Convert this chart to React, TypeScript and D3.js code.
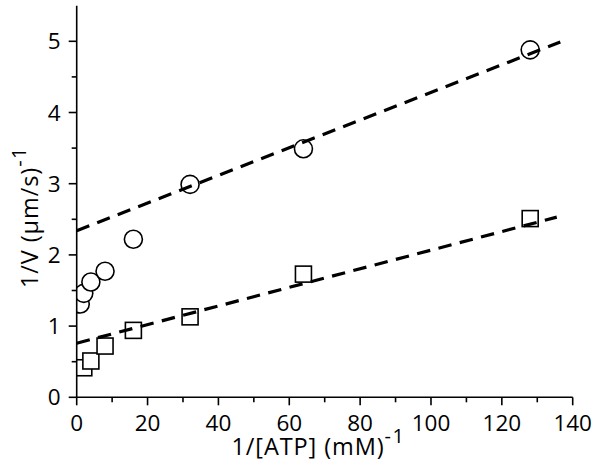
import React from "react";
import * as d3 from "d3";

const atpInv = [1, 2, 4, 8, 16, 32, 64, 128];
const circleVals = [1.31, 1.46, 1.62, 1.77, 2.22, 2.99, 3.49, 4.88];
const squareX = [2, 4, 8, 16, 32, 64, 128];
const squareVals = [0.415, 0.51, 0.72, 0.94, 1.13, 1.73, 2.51];
const fitCircleX = [0, 136.5];
const fitCircleY = [2.34, 4.99];
const fitSquareX = [0, 135.5];
const fitSquareY = [0.76, 2.53];
const xMajor = [0, 20, 40, 60, 80, 100, 120, 140];
const xMinor = [10, 30, 50, 70, 90, 110, 130];
const yMajor = [0, 1, 2, 3, 4, 5];
const yMinor = [0.5, 1.5, 2.5, 3.5, 4.5];

const W = 601;
const H = 465;
const FONT = "'Open Sans', sans-serif";

export default function App() {
  const x = d3.scaleLinear().domain([0, 140]).range([76.7, 572.7]);
  const y = d3.scaleLinear().domain([0, 5.5]).range([397.3, 5.7]);
  const line = d3
    .line<[number, number]>()
    .x((d) => x(d[0]))
    .y((d) => y(d[1]));
  const circlePts = atpInv.map((v, i) => [v, circleVals[i]] as [number, number]);
  const squarePts = squareX.map((v, i) => [v, squareVals[i]] as [number, number]);
  const fitC = fitCircleX.map((v, i) => [v, fitCircleY[i]] as [number, number]);
  const fitS = fitSquareX.map((v, i) => [v, fitSquareY[i]] as [number, number]);
  const x0 = x(0);
  const y0 = y(0);
  const side = 16;

  return (
    <svg
      width={W}
      height={H}
      style={{ position: "absolute", left: 0, top: 0, background: "#fff" }}
      fontFamily={FONT}
    >
      <defs>
        <clipPath id="plot">
          <rect x={x0} y={y(5.5)} width={x(140) - x0} height={y0 - y(5.5)} />
        </clipPath>
      </defs>
      <rect width={W} height={H} fill="#fff" />
      <g clipPath="url(#plot)">
        {squarePts.map((d, i) => (
          <rect
            key={"s" + i}
            x={x(d[0]) - side / 2}
            y={y(d[1]) - side / 2}
            width={side}
            height={side}
            fill="#fff"
            stroke="#000"
            strokeWidth={1.6}
          />
        ))}
        {circlePts.map((d, i) => (
          <circle
            key={"c" + i}
            cx={x(d[0])}
            cy={y(d[1])}
            r={9}
            fill="#fff"
            stroke="#000"
            strokeWidth={1.6}
          />
        ))}
      </g>
      <path d={line(fitC) || ""} fill="none" stroke="#000" strokeWidth={3.2} strokeDasharray="13.5 8.5" />
      <path d={line(fitS) || ""} fill="none" stroke="#000" strokeWidth={3.2} strokeDasharray="13.5 8.5" />

      {/* axes */}
      <line x1={x0} x2={x0} y1={y(5.5)} y2={y0} stroke="#000" strokeWidth={1.6} />
      <line x1={x0} x2={x(140)} y1={y0} y2={y0} stroke="#000" strokeWidth={1.6} />
      {yMajor.map((v) => (
        <g key={"ym" + v}>
          <line x1={x0 - 8} x2={x0} y1={y(v)} y2={y(v)} stroke="#000" strokeWidth={1.6} />
          <text x={60.5} y={y(v)} dy="0.36em" textAnchor="end" fontSize={22.5}>
            {v}
          </text>
        </g>
      ))}
      {yMinor.map((v) => (
        <line key={"yn" + v} x1={x0 - 5} x2={x0} y1={y(v)} y2={y(v)} stroke="#000" strokeWidth={1.6} />
      ))}
      {xMajor.map((v) => (
        <g key={"xm" + v}>
          <line x1={x(v)} x2={x(v)} y1={y0} y2={y0 + 8} stroke="#000" strokeWidth={1.6} />
          <text x={x(v)} y={431} textAnchor="middle" fontSize={22.5}>
            {v}
          </text>
        </g>
      ))}
      {xMinor.map((v) => (
        <line key={"xn" + v} x1={x(v)} x2={x(v)} y1={y0} y2={y0 + 5} stroke="#000" strokeWidth={1.6} />
      ))}

      {/* axis titles */}
      <text x={231.5} y={455} fontSize={23.5} letterSpacing={0.9}>
        1/[ATP] (mM)
        <tspan fontSize={20} dy={-12} letterSpacing={1.5}>
          -1
        </tspan>
      </text>
      <text transform="translate(37.5,288) rotate(-90)" fontSize={23.5} letterSpacing={0.9}>
        1/V (μm/s)
        <tspan fontSize={20} dy={-12} letterSpacing={1.5}>
          -1
        </tspan>
      </text>
    </svg>
  );
}
